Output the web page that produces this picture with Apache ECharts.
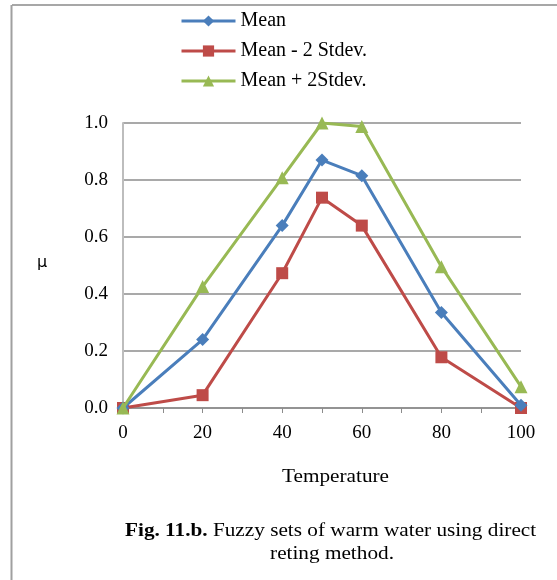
<!DOCTYPE html>
<html>
<head>
<meta charset="utf-8">
<script src="https://cdn.jsdelivr.net/npm/echarts@6/dist/echarts.min.js"></script>
<style>
html,body{margin:0;padding:0;background:#fff;}
#chart{width:557px;height:580px;}
</style>
</head>
<body>
<div id="chart"></div>
<script>
const temperature = [0, 20, 40, 50, 60, 80, 100];
const meanValues = [0, 0.24, 0.64, 0.87, 0.815, 0.335, 0.01];
const meanMinus2Sd = [0, 0.045, 0.473, 0.738, 0.64, 0.178, 0];
const meanPlus2Sd = [0, 0.426, 0.808, 1.0, 0.988, 0.496, 0.075];
const seriesNames = ['Mean', 'Mean - 2 Stdev.', 'Mean + 2Stdev.'];
const xLabels = [0, 20, 40, 60, 80, 100];

const pair = arr => temperature.map((t, i) => [t, arr[i]]);
const serif = '"Liberation Serif", "Times New Roman", serif';

const chart = echarts.init(document.getElementById('chart'));
chart.setOption({
  animation: false,
  backgroundColor: '#fff',
  grid: { left: 123, right: 36, top: 123, bottom: 172 },
  legend: {
    orient: 'vertical',
    left: 175,
    top: 6,
    itemWidth: 54,
    itemHeight: 14,
    itemGap: 10,
    lineStyle: { width: 3 },
    textStyle: { fontFamily: serif, fontSize: 20, color: '#000' },
    data: seriesNames
  },
  xAxis: {
    type: 'value', min: 0, max: 100, interval: 10,
    axisLine: { lineStyle: { color: '#8c8c8c', width: 1.5 } },
    axisTick: { show: true, length: 5, lineStyle: { color: '#8c8c8c' } },
    splitLine: { show: false },
    axisLabel: {
      fontFamily: serif, fontSize: 19, color: '#000', margin: 16,
      formatter: v => xLabels.includes(v) ? String(v) : ''
    }
  },
  yAxis: {
    type: 'value', min: 0, max: 1, interval: 0.2,
    axisLine: { show: true, lineStyle: { color: '#bdbdbd', width: 2 } },
    axisTick: { show: false },
    splitLine: { lineStyle: { color: '#8c8c8c', width: 1.5 } },
    axisLabel: {
      fontFamily: serif, fontSize: 19, color: '#000', margin: 15,
      formatter: v => v.toFixed(1)
    }
  },
  series: [
    {
      name: seriesNames[0], type: 'line', data: pair(meanValues), z: 4,
      symbol: 'diamond', symbolSize: 13,
      lineStyle: { color: '#4a7ebb', width: 3 },
      itemStyle: { color: '#4a7ebb' }
    },
    {
      name: seriesNames[1], type: 'line', data: pair(meanMinus2Sd), z: 3,
      symbol: 'rect', symbolSize: 12,
      lineStyle: { color: '#be4b48', width: 3 },
      itemStyle: { color: '#be4b48' }
    },
    {
      name: seriesNames[2], type: 'line', data: pair(meanPlus2Sd), z: 5,
      symbol: 'triangle', symbolSize: 13,
      lineStyle: { color: '#98b954', width: 3 },
      itemStyle: { color: '#98b954' }
    }
  ],
  graphic: [
    { type: 'line', shape: { x1: 12, y1: 5, x2: 557, y2: 5 }, style: { stroke: '#8a8a8a', lineWidth: 1.5 } },
    { type: 'line', shape: { x1: 11.5, y1: 5, x2: 11.5, y2: 580 }, style: { stroke: '#a0a0a0', lineWidth: 2 } },
    { type: 'text', x: 282, y: 477, scaleX: 1.18, style: { text: 'Temperature', font: '18px ' + serif, fill: '#000', verticalAlign: 'middle' } },
    { type: 'text', x: 37, y: 263, style: { text: 'μ', font: '16px "DejaVu Sans", sans-serif', fill: '#000', verticalAlign: 'middle' } },
    {
      type: 'text', x: 125, y: 531, scaleX: 1.18,
      style: {
        text: '{b|Fig. 11.b.} Fuzzy sets of warm water using direct',
        font: '18px ' + serif, fill: '#000', verticalAlign: 'middle',
        rich: { b: { fontWeight: 'bold', fontFamily: serif, fontSize: 18 } }
      }
    },
    { type: 'text', x: 332, y: 554, scaleX: 1.18, style: { text: 'reting method.', font: '18px ' + serif, fill: '#000', align: 'center', verticalAlign: 'middle' } }
  ]
});
</script>
</body>
</html>
